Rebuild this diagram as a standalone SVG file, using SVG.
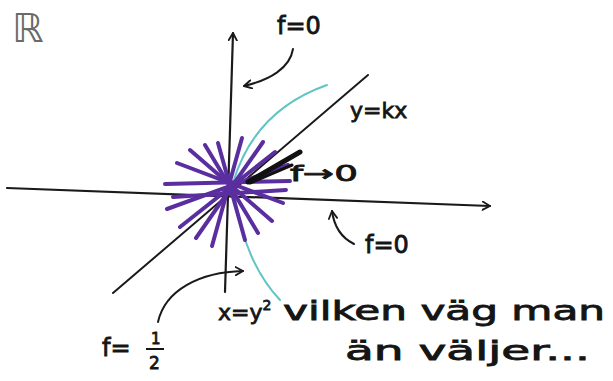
<svg xmlns="http://www.w3.org/2000/svg" width="613" height="381" viewBox="0 0 613 381">
<defs>
<style>
.ax{stroke:#1a1a1a;stroke-width:2.2;fill:none;stroke-linecap:round;stroke-linejoin:round}
.thin{stroke:#1a1a1a;stroke-width:2;fill:none;stroke-linecap:round}
.cy{stroke:#5fc4c4;stroke-width:2;fill:none;stroke-linecap:round}
.pu{stroke:#5b2ea0;stroke-width:4;stroke-linecap:round}
.t{font-family:"DejaVu Sans","Liberation Sans",sans-serif;fill:#151515;stroke:#151515;stroke-width:0.8}
</style>
<marker id="ah" viewBox="0 0 12 12" refX="10" refY="6" markerWidth="10" markerHeight="10" orient="auto" markerUnits="userSpaceOnUse">
<path d="M1,1 L10,6 L1,11" fill="none" stroke="#1a1a1a" stroke-width="2.2" stroke-linecap="round" stroke-linejoin="round"/>
</marker>
</defs>
<rect width="613" height="381" fill="#ffffff"/>
<text x="12" y="42" font-family="DejaVu Sans,sans-serif" font-size="40" fill="#6a6a6a">ℝ</text>

<g id="connectors">
<path class="ax" d="M7,188 L490,206" marker-end="url(#ah)"/>
<path class="ax" d="M225,292 L233,33" marker-end="url(#ah)"/>
<path class="thin" d="M113,293 L368,75"/>
<path class="cy" d="M327,85 C290,98 250,125 233,183 C238,230 252,270 280,300"/>
<g id="starburst">
<line class="pu" x1="165" y1="184" x2="290" y2="181"/>
<line class="pu" x1="167" y1="209" x2="288" y2="165"/>
<line class="pu" x1="177" y1="163" x2="283" y2="203"/>
<line class="pu" x1="190" y1="150" x2="272" y2="221"/>
<line class="pu" x1="205" y1="145" x2="258" y2="233"/>
<line class="pu" x1="218" y1="143" x2="245" y2="240"/>
<line class="pu" x1="242" y1="138" x2="212" y2="246"/>
<line class="pu" x1="263" y1="142" x2="196" y2="238"/>
<line class="pu" x1="275" y1="152" x2="180" y2="227"/>
<line class="pu" x1="173" y1="197" x2="286" y2="190"/>
</g>
<path d="M300,152 L248,182" stroke="#111" stroke-width="5" stroke-linecap="round"/>
<path d="M292,165 L250,183" stroke="#111" stroke-width="3" stroke-linecap="round"/>
<path class="thin" d="M293,49 C290,68 270,80 244,86" marker-end="url(#ah)"/>
<path class="thin" d="M354,244 C342,238 334,226 332,211" marker-end="url(#ah)"/>
<path class="thin" d="M158,322 C165,290 200,272 243,271" marker-end="url(#ah)"/>
</g>

<g id="label-f0-top"><text class="t" x="277" y="34" font-size="24">f=0</text></g>
<g id="label-ykx"><text class="t" x="350" y="118" font-size="22">y=kx</text></g>
<g id="label-fto0"><text class="t" x="290" y="181" font-size="22" textLength="68" lengthAdjust="spacingAndGlyphs">f→0</text></g>
<g id="label-f0-bottom"><text class="t" x="365" y="253" font-size="24">f=0</text></g>
<g id="label-fhalf">
<text class="t" x="102" y="356" font-size="24">f=</text>
<text class="t" x="151" y="344" font-size="15">1</text>
<line x1="146" y1="349" x2="164" y2="349" stroke="#151515" stroke-width="2"/>
<text class="t" x="149" y="369" font-size="17">2</text>
</g>
<g id="label-parabola">
<text class="t" x="218" y="320" font-size="22">x=y<tspan font-size="14" dy="-10">2</tspan></text>
<text class="t" x="283" y="320" font-size="26" textLength="322" lengthAdjust="spacingAndGlyphs">vilken väg man</text>
<text class="t" x="345" y="360" font-size="26" textLength="245" lengthAdjust="spacingAndGlyphs">än väljer...</text>
</g>
</svg>
